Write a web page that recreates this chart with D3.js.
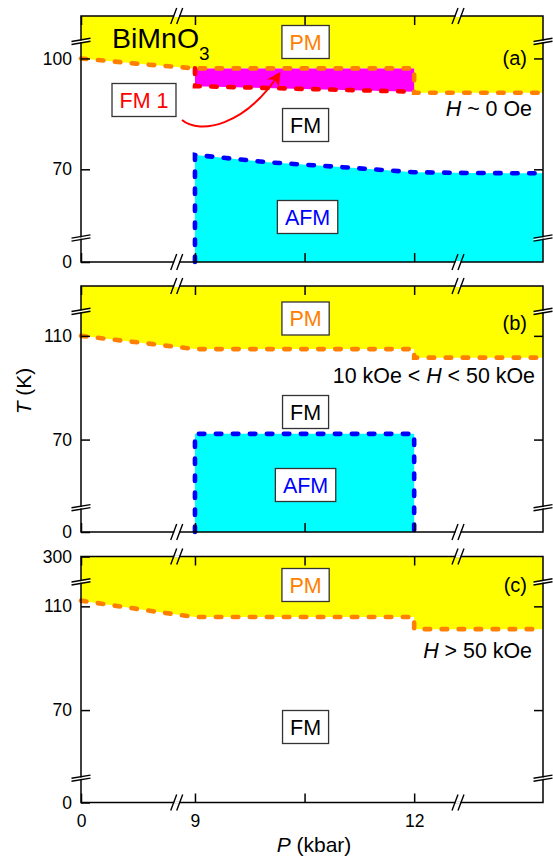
<!DOCTYPE html>
<html>
<head>
<meta charset="utf-8">
<script src="https://cdn.jsdelivr.net/npm/d3@7"></script>
<style>
  body { margin: 0; background: #fff; }
  text { font-family: "Liberation Sans", Arial, sans-serif; fill: #000; }
</style>
</head>
<body>
<script>
// P (kbar), T (K)
var xTicks = [0, 9, 12],
    xMinor = [10.5],
    xBreaks = [8.75, 12.6];

// (a) H ~ 0 Oe
var pmA = [[0, 100], [5, 98.6], [9, 97.3], [12, 97.3], [12, 90.7], [15, 90.7]],
    fm1Top = [[9, 97.3], [12, 97.3]],
    fm1Low = [[9, 92.5], [12, 91.0]],
    afmA = [[9, 73.9], [10, 71.9], [11, 70.6], [12, 69.2], [13, 69.0], [15, 68.9]],
    yTicksA = [0, 70, 100],
    yBreaksA = [51.6, 104.8];

// (b) 10 kOe < H < 50 kOe
var pmB = [[0, 110], [6.6, 106.8], [9, 104.9], [12, 104.9], [12, 101.6], [15, 101.6]],
    afmB = [[9, 72.2], [12, 72.2]],
    yTicksB = [0, 70, 110];

// (c) H > 50 kOe
var pmC = [[0, 112.2], [6.6, 108.1], [9, 105.9], [12, 105.9], [12, 101.2], [15, 101.2]],
    yTicksC = [0, 70, 110, 300],
    yBreaksBC = [44, 119.7];

var left = 81, plotW = 462, plotH = 246,
    tops = [16, 286, 556.5],
    orange = "#ff8000";

var svg = d3.select("body").append("svg")
    .attr("width", 553)
    .attr("height", 858);

var x = d3.scaleLinear().domain([0, 8.75, 12.6, 15]).range([0, 95.7, 377, plotW]);
var yA = d3.scaleLinear().domain([0, 51.6, 104.8, 300]).range([plotH, 221.3, 24.7, 0]);
var yBC = d3.scaleLinear().domain([0, 44, 119.7, 300]).range([plotH, 221, 24.7, 0]);

var panels = [
  { y: yA, ticks: yTicksA, breaks: yBreaksA, pm: pmA, afm: afmA, afmBox: false, tag: "(a)", tagY: 42,
    labels: [["PM", orange, 26], ["FM", "#000", 109], ["AFM", "#00f", 201]] },
  { y: yBC, ticks: yTicksB, breaks: yBreaksBC, pm: pmB, afm: afmB, afmBox: true, tag: "(b)", tagY: 37,
    labels: [["PM", orange, 32.5], ["FM", "#000", 126], ["AFM", "#00f", 199]] },
  { y: yBC, ticks: yTicksC, breaks: yBreaksBC, pm: pmC, afm: null, tag: "(c)", tagY: 28.5,
    labels: [["PM", orange, 28.5], ["FM", "#000", 170.5]] }
];

function dashed(g, pts, y, color) {
  g.append("path")
    .attr("d", d3.line().x(function (d) { return x(d[0]); }).y(function (d) { return y(d[1]); })(pts))
    .attr("fill", "none")
    .attr("stroke", color)
    .attr("stroke-width", 4.6)
    .attr("stroke-linecap", "round")
    .attr("stroke-dasharray", "5.5 11.5");
}

function box(g, txt, color, cx, cy) {
  var b = g.append("g").attr("transform", "translate(" + cx + "," + cy + ")");
  var r = b.append("rect");
  var t = b.append("text")
    .attr("text-anchor", "middle")
    .attr("dy", "0.36em")
    .style("font-size", "21.5px")
    .style("fill", color)
    .text(txt);
  var w = t.node().getComputedTextLength() + 15;
  r.attr("x", -w / 2).attr("y", -16.5).attr("width", w).attr("height", 33)
    .attr("fill", "#fff").attr("stroke", "#333").attr("stroke-width", 1.3);
  return b;
}

panels.forEach(function (p, i) {
  var y = p.y;
  var g = svg.append("g").attr("transform", "translate(" + left + "," + tops[i] + ")");

  // PM region
  g.append("path")
    .attr("d", d3.area().x(function (d) { return x(d[0]); }).y0(y(300)).y1(function (d) { return y(d[1]); })(p.pm))
    .attr("fill", "#ffff00");

  // AFM region
  if (p.afm) {
    g.append("path")
      .attr("d", d3.area().x(function (d) { return x(d[0]); }).y0(y(0)).y1(function (d) { return y(d[1]); })(p.afm))
      .attr("fill", "#00ffff");
  }

  // FM 1 region in (a)
  if (i === 0) {
    g.append("path")
      .attr("d", d3.line().x(function (d) { return x(d[0]); }).y(function (d) { return y(d[1]); })(fm1Top.concat(fm1Low.slice().reverse())) + "Z")
      .attr("fill", "#ff00ff");
    dashed(g, [[9, fm1Top[0][1]]].concat(fm1Low), y, "#ff0000");
  }

  dashed(g, p.pm, y, orange);
  if (p.afm) {
    var last = p.afm[p.afm.length - 1];
    var pts = [[p.afm[0][0], 0]].concat(p.afm);
    if (p.afmBox) pts.push([last[0], 0]);
    dashed(g, pts, y, "#0000ff");
  }

  // axes, ticks inward
  g.append("g").call(d3.axisLeft(y).tickValues(p.ticks).tickSize(-9).tickPadding(9));
  g.append("g").attr("transform", "translate(" + plotW + ",0)")
    .call(d3.axisRight(y).tickValues(p.ticks.filter(function (d) { return d > 0 && d < 300; })).tickSize(-9).tickFormat(""));
  g.append("g").call(d3.axisTop(x).tickValues(xTicks.concat(xMinor)).tickSize(-9).tickFormat(""));
  g.append("g").attr("transform", "translate(0," + plotH + ")")
    .call(d3.axisBottom(x).tickValues(xTicks.concat(xMinor)).tickSize(-9).tickPadding(12)
      .tickFormat(function (d) { return i === 2 && d !== 10.5 ? d : ""; }));

  g.selectAll(".domain").remove();
  g.selectAll(".tick line").attr("stroke", "#000").attr("stroke-width", 1.5);
  g.selectAll(".tick text").style("font-size", "17.5px").attr("fill", "#000");

  g.append("rect")
    .attr("width", plotW).attr("height", plotH)
    .attr("fill", "none").attr("stroke", "#000").attr("stroke-width", 1.5);

  // axis breaks
  p.breaks.forEach(function (t) {
    [0, plotW].forEach(function (xx) {
      var b = g.append("g").attr("transform", "translate(" + xx + "," + y(t) + ")");
      b.append("path").attr("d", "M-9.5,1.6L9.5,-1.6L9.5,-0.2L-9.5,3Z").attr("fill", "#fff");
      b.append("path").attr("d", "M-9.5,0.8L9.5,-2.4M-9.5,3.8L9.5,0.6")
        .attr("stroke", "#000").attr("stroke-width", 1.4);
    });
  });
  xBreaks.forEach(function (pb) {
    [0, plotH].forEach(function (yy) {
      var b = g.append("g").attr("transform", "translate(" + x(pb) + "," + yy + ")");
      b.append("rect").attr("x", -2.5).attr("y", -1).attr("width", 5).attr("height", 2).attr("fill", "#fff");
      b.append("path").attr("d", "M-6,8L0,-8M0,8L6,-8")
        .attr("stroke", "#000").attr("stroke-width", 1.4);
    });
  });

  // phase labels
  p.labels.forEach(function (l) {
    box(g, l[0], l[1], x(10.5) + (l[0] === "AFM" && i === 0 ? 3 : 1), l[2]);
  });

  g.append("text")
    .attr("x", 446).attr("y", p.tagY).attr("dy", "0.35em")
    .attr("text-anchor", "end")
    .style("font-size", "20px")
    .text(p.tag);
});

// field annotations
var notes = [
  [0, 451, 99.7, [["H", true], [" ~ 0 Oe", false]]],
  [1, 454, 96.7, [["10 kOe < ", false], ["H", true], [" < 50 kOe", false]]],
  [2, 451, 101.5, [["H", true], [" > 50 kOe", false]]]
];
notes.forEach(function (n) {
  var t = svg.append("text")
    .attr("x", left + n[1]).attr("y", tops[n[0]] + n[2])
    .attr("text-anchor", "end")
    .style("font-size", "21.4px");
  n[3].forEach(function (s) {
    t.append("tspan").style("font-style", s[1] ? "italic" : "normal").text(s[0]);
  });
});

// compound name
var nm = svg.append("text").attr("x", 112).attr("y", 48).style("font-size", "28.5px").text("BiMnO");
nm.append("tspan").attr("dy", 12).style("font-size", "19px").text("3");

// FM 1 label and arrow
box(svg, "FM 1", "#ff0000", 144, 100);
svg.append("defs").append("marker")
  .attr("id", "ah").attr("viewBox", "0 0 10 10")
  .attr("refX", 8).attr("refY", 5)
  .attr("markerWidth", 7).attr("markerHeight", 7)
  .attr("orient", "auto")
  .append("path").attr("d", "M0,0L10,5L0,10L3,5Z").attr("fill", "#ff0000");
svg.append("path")
  .attr("d", "M182,120C200,135 245,126 279,74")
  .attr("fill", "none").attr("stroke", "#ff0000").attr("stroke-width", 2)
  .attr("marker-end", "url(#ah)");

// axis titles
var ty = svg.append("text")
  .attr("transform", "translate(31,391) rotate(-90)")
  .attr("text-anchor", "middle")
  .style("font-size", "21px");
ty.append("tspan").style("font-style", "italic").text("T");
ty.append("tspan").text(" (K)");

var tx = svg.append("text")
  .attr("x", 314).attr("y", 852)
  .attr("text-anchor", "middle")
  .style("font-size", "21px");
tx.append("tspan").style("font-style", "italic").text("P");
tx.append("tspan").text(" (kbar)");
</script>
</body>
</html>
